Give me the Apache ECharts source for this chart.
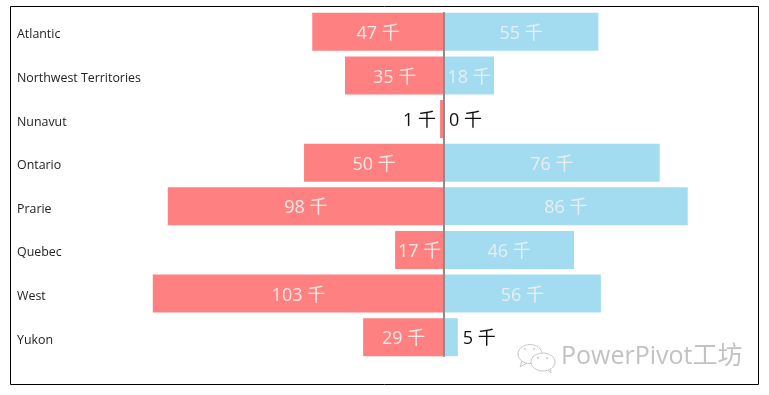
<!DOCTYPE html>
<html>
<head>
<meta charset="utf-8">
<style>html,body{margin:0;padding:0;background:#fff}#main{width:769px;height:395px}</style>
<script src="https://cdn.jsdelivr.net/npm/echarts@6/dist/echarts.min.js"></script>
</head>
<body>
<div id="main"></div>
<script>
var categories = ['Atlantic', 'Northwest Territories', 'Nunavut', 'Ontario', 'Prarie', 'Quebec', 'West', 'Yukon'];
var leftValues = [46.6, 35, 1.4, 49.5, 97.7, 17.3, 103, 28.6];
var rightValues = [54.6, 17.7, 0, 76.3, 86.2, 46, 55.5, 4.9];
var smallLimit = 10;
var labelFont = '"Open Sans", "Noto Sans CJK SC", sans-serif';

function makeData(values, sign) {
    return values.map(function (v) {
        var item = {value: sign * v};
        if (v < smallLimit) {
            item.label = {
                position: sign < 0 ? 'left' : 'right',
                color: '#111',
                distance: sign < 0 ? 4 : 5,
                offset: [0, 2]
            };
            if (v === 0) item.label.offset = [4, 2];
        }
        return item;
    });
}

var labelText = function (p) {
    return Math.round(Math.abs(p.value)) + ' 千';
};

var bubbleLine = {fill: '#fff', stroke: '#c8c8c8', lineWidth: 1};
var bubbleDot = {fill: '#c8c8c8'};

var myChart0 = echarts.init(document.getElementById('main'));
var option = {
    backgroundColor: '#fff',
    animation: false,
    grid: [
        {left: 133, right: 14, top: 10, height: 349, containLabel: false},
        // the divider only runs from the first bar's top to the last bar's bottom
        {left: 133, right: 14, top: 13, height: 343, containLabel: false}
    ],
    xAxis: [
        {type: 'value', min: -110, max: 110, show: false},
        {type: 'value', gridIndex: 1, min: -110, max: 110, show: false}
    ],
    yAxis: [
        {
            type: 'category',
            inverse: true,
            data: categories,
            axisLine: {show: false},
            axisTick: {show: false},
            axisLabel: {
                align: 'left',
                verticalAlign: 'top',
                lineHeight: 6,
                margin: 116,
                fontSize: 12.4,
                color: '#222',
                fontFamily: labelFont
            }
        },
        {
            type: 'category',
            gridIndex: 1,
            z: 5,
            data: categories,
            axisLine: {show: true, onZero: true, lineStyle: {color: '#8c8c8c', width: 2}},
            axisTick: {show: false},
            axisLabel: {show: false}
        }
    ],
    series: [
        {
            type: 'bar',
            stack: 'all',
            barWidth: 38,
            data: makeData(leftValues, -1),
            itemStyle: {color: '#FF8080'},
            label: {
                show: true,
                position: 'inside',
                offset: [0, 2],
                formatter: labelText,
                fontSize: 18,
                fontFamily: labelFont,
                color: '#F5E6E6'
            }
        },
        {
            type: 'bar',
            stack: 'all',
            barWidth: 38,
            data: makeData(rightValues, 1),
            itemStyle: {color: '#A3DCF0'},
            label: {
                show: true,
                position: 'inside',
                offset: [0, 2],
                formatter: labelText,
                fontSize: 18,
                fontFamily: labelFont,
                color: '#E8EEF0'
            }
        }
    ],
    graphic: [
        {
            type: 'rect',
            silent: true,
            shape: {x: 10.5, y: 6.5, width: 748, height: 378},
            style: {fill: 'none', stroke: '#000', lineWidth: 1}
        },
        // wechat mark in the corner
        {type: 'polyline', silent: true, shape: {points: [[522, 361], [520, 367], [527, 363]]}, style: bubbleLine},
        {type: 'ellipse', silent: true, shape: {cx: 530, cy: 354, rx: 12, ry: 9.5}, style: bubbleLine},
        {type: 'polyline', silent: true, shape: {points: [[546, 368], [551, 373], [550, 366]]}, style: bubbleLine},
        {type: 'ellipse', silent: true, shape: {cx: 543, cy: 362, rx: 12, ry: 9}, style: bubbleLine},
        {type: 'circle', silent: true, shape: {cx: 525, cy: 349, r: 1}, style: bubbleDot},
        {type: 'circle', silent: true, shape: {cx: 534, cy: 349, r: 1}, style: bubbleDot},
        {type: 'circle', silent: true, shape: {cx: 538, cy: 358, r: 1}, style: bubbleDot},
        {type: 'circle', silent: true, shape: {cx: 547, cy: 358, r: 1}, style: bubbleDot},
        {
            type: 'text',
            silent: true,
            x: 561,
            y: 344,
            style: {
                text: 'PowerPivot工坊',
                font: '25px "Open Sans", "Noto Sans CJK SC", sans-serif',
                fill: '#c2c2c2'
            }
        }
    ]
};
myChart0.setOption(option);
</script>
</body>
</html>
